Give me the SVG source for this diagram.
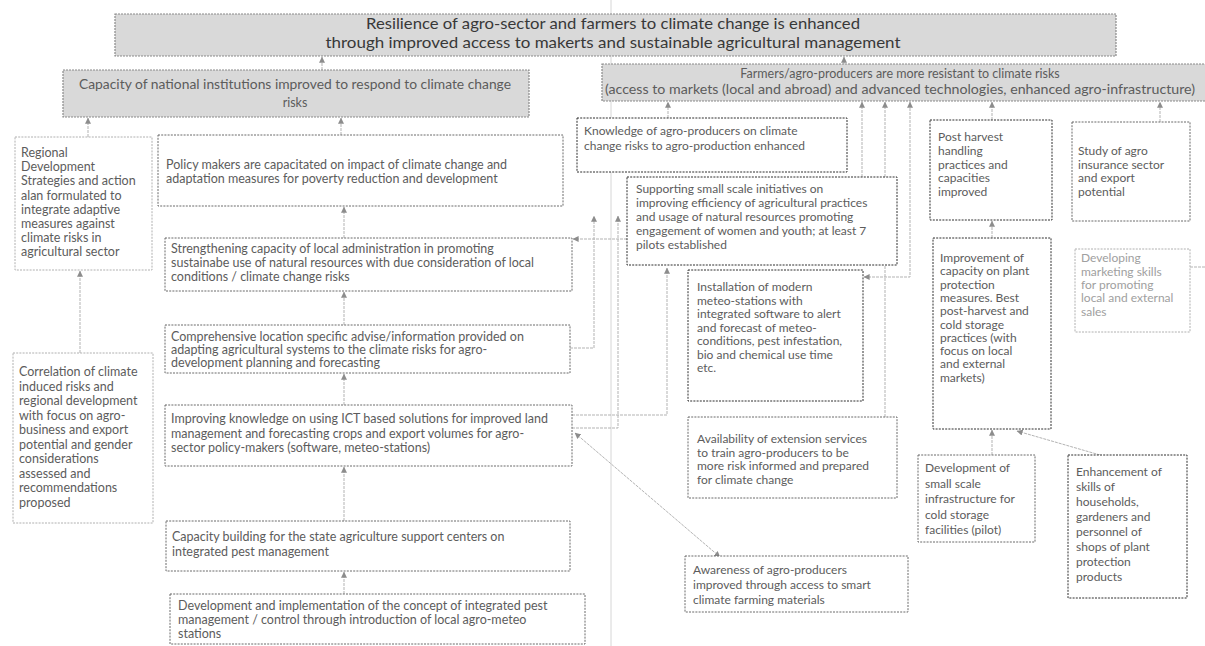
<svg xmlns="http://www.w3.org/2000/svg" width="1205" height="646" viewBox="0 0 1205 646">
<style>
.bx{fill:#fff;stroke:#6a6a6a;stroke-width:1;stroke-dasharray:2 1.2}
.dk{stroke:#2e2e2e}
.lt{stroke:#b0b0b0}
.gr{fill:#d9d9d9;stroke:#8a8a8a;stroke-width:1.2;stroke-dasharray:2 1}
.t{font-family:Lato,"Liberation Sans",sans-serif;font-size:12px;fill:#5c5c5c}
.tl{font-size:12.5px}
.ttl{font-family:Lato,"Liberation Sans",sans-serif;font-size:16px;fill:#383838;text-anchor:middle}
.tc{text-anchor:middle}
.pale{fill:#a0a0a0}
.conn path{fill:none;stroke:#b3b3b3;stroke-width:1;stroke-dasharray:3 1}
</style>
<defs>
<marker id="ah" viewBox="0 0 8 8" refX="7.5" refY="4" markerWidth="6" markerHeight="6" orient="auto-start-reverse">
<path d="M0,0 L8,4 L0,8 z" fill="#8c8c8c"/>
</marker>
</defs>
<rect width="1205" height="646" fill="#fff"/>
<g id="scan-seam"><path d="M611,0 V646" stroke="#d6d6d6" stroke-width="1"/></g>
<g class="conn">
<path d="M322,70 V57" marker-end="url(#ah)"/>
<path d="M844,64 V57" marker-end="url(#ah)"/>
<path d="M88,137 V118" marker-end="url(#ah)"/>
<path d="M341,135 V118" marker-end="url(#ah)"/>
<path d="M80,353 V271" marker-end="url(#ah)"/>
<path d="M344,238 V207" marker-end="url(#ah)"/>
<path d="M344,325 V292" marker-end="url(#ah)"/>
<path d="M344,405 V374" marker-end="url(#ah)"/>
<path d="M344,521 V467" marker-end="url(#ah)"/>
<path d="M344,594 V572" marker-end="url(#ah)"/>
<path d="M668,118 V102" marker-end="url(#ah)"/>
<path d="M862,177 V102" marker-end="url(#ah)"/>
<path d="M885,417 V102" marker-end="url(#ah)"/>
<path d="M864,277 H910 V102" marker-start="url(#ah)" marker-end="url(#ah)"/>
<path d="M992,120 V102" marker-end="url(#ah)"/>
<path d="M1160,122 V102" marker-end="url(#ah)"/>
<path d="M992,238 V221" marker-end="url(#ah)"/>
<path d="M992,455 V430" marker-end="url(#ah)"/>
<path d="M1100,455 L1017,431" marker-end="url(#ah)"/>
<path d="M627,239 H573" marker-end="url(#ah)"/>
<path d="M570,348 H594 V216" marker-end="url(#ah)"/>
<path d="M572,428 H618 V216" marker-end="url(#ah)"/>
<path d="M572,415 H667 V268" marker-end="url(#ah)"/>
<path d="M575,433 L720,557" marker-start="url(#ah)" marker-end="url(#ah)"/>
<path d="M1190,267 H1205"/>
</g>
<g id="goal">
<rect class="gr" x="115" y="14" width="1001" height="42"/>
<text class="ttl" x="613" y="29" textLength="494" lengthAdjust="spacingAndGlyphs">Resilience of agro-sector and farmers to climate change is enhanced</text>
<text class="ttl" x="613" y="48" textLength="575" lengthAdjust="spacingAndGlyphs">through improved access to makerts and sustainable agricultural management</text>
</g>
<g id="capacity-national">
<rect class="gr" x="63" y="70" width="466" height="47"/>
<text class="t tl tc" x="295" y="89" textLength="432" lengthAdjust="spacingAndGlyphs">Capacity of national institutions improved to respond to climate change</text>
<text class="t tl tc" x="295" y="107">risks</text>
</g>
<g id="farmers">
<rect class="gr" x="602" y="64" width="610" height="37"/>
<text class="t tl tc" x="900" y="78">Farmers/agro-producers are more resistant to climate risks</text>
<text class="t tl tc" x="900" y="94" textLength="590" lengthAdjust="spacingAndGlyphs">(access to markets (local and abroad) and advanced technologies, enhanced agro-infrastructure)</text>
</g>
<g id="regional">
<rect class="bx lt" x="15" y="137" width="137" height="133"/>
<text class="t tl" x="21" y="157">Regional</text>
<text class="t tl" x="21" y="171">Development</text>
<text class="t tl" x="21" y="185">Strategies and action</text>
<text class="t tl" x="21" y="200">alan formulated to</text>
<text class="t tl" x="21" y="214">integrate adaptive</text>
<text class="t tl" x="21" y="228">measures against</text>
<text class="t tl" x="21" y="242">climate risks in</text>
<text class="t tl" x="21" y="256">agricultural sector</text>
</g>
<g id="policy">
<rect class="bx" x="158" y="135" width="405" height="71"/>
<text class="t tl" x="166" y="169">Policy makers are capacitated on impact of climate change and</text>
<text class="t tl" x="166" y="183">adaptation measures for poverty reduction and development</text>
</g>
<g id="strengthening">
<rect class="bx" x="165" y="238" width="407" height="53"/>
<text class="t tl" x="171" y="253">Strengthening capacity of local administration in promoting</text>
<text class="t tl" x="171" y="267">sustainabe use of natural resources with due consideration of local</text>
<text class="t tl" x="171" y="281">conditions / climate change risks</text>
</g>
<g id="comprehensive">
<rect class="bx" x="165" y="325" width="405" height="48"/>
<text class="t tl" x="171" y="341">Comprehensive location specific advise/information provided on</text>
<text class="t tl" x="171" y="354">adapting agricultural systems to the climate risks for agro-</text>
<text class="t tl" x="171" y="367">development planning and forecasting</text>
</g>
<g id="improving">
<rect class="bx" x="165" y="405" width="407" height="61"/>
<text class="t tl" x="171" y="423">Improving knowledge on using ICT based solutions for improved land</text>
<text class="t tl" x="171" y="438">management and forecasting crops and export volumes for agro-</text>
<text class="t tl" x="171" y="452">sector policy-makers (software, meteo-stations)</text>
</g>
<g id="capacity-building">
<rect class="bx" x="166" y="521" width="404" height="50"/>
<text class="t tl" x="172" y="541">Capacity building for the state agriculture support centers on</text>
<text class="t tl" x="172" y="556">integrated pest management</text>
</g>
<g id="development-ipm">
<rect class="bx" x="170" y="594" width="415" height="50"/>
<text class="t tl" x="178" y="610">Development and implementation of the concept of integrated pest</text>
<text class="t tl" x="178" y="624">management / control through introduction of local agro-meteo</text>
<text class="t tl" x="178" y="638">stations</text>
</g>
<g id="correlation">
<rect class="bx lt" x="13" y="353" width="140" height="170"/>
<text class="t tl" x="19" y="376">Correlation of climate</text>
<text class="t tl" x="19" y="390.5">induced risks and</text>
<text class="t tl" x="19" y="405">regional development</text>
<text class="t tl" x="19" y="419.5">with focus on agro-</text>
<text class="t tl" x="19" y="434">business and export</text>
<text class="t tl" x="19" y="448.5">potential and gender</text>
<text class="t tl" x="19" y="463">considerations</text>
<text class="t tl" x="19" y="477.5">assessed and</text>
<text class="t tl" x="19" y="492">recommendations</text>
<text class="t tl" x="19" y="506.5">proposed</text>
</g>
<g id="knowledge">
<rect class="bx dk" x="577" y="118" width="270" height="54"/>
<text class="t" x="584" y="135">Knowledge of agro-producers on climate</text>
<text class="t" x="584" y="150">change risks to agro-production enhanced</text>
</g>
<g id="supporting">
<rect class="bx dk" x="627" y="177" width="270" height="88"/>
<text class="t" x="636" y="193">Supporting small scale initiatives on</text>
<text class="t" x="636" y="207">improving efficiency of agricultural practices</text>
<text class="t" x="636" y="221">and usage of natural resources promoting</text>
<text class="t" x="636" y="235">engagement of women and youth; at least 7</text>
<text class="t" x="636" y="249">pilots established</text>
</g>
<g id="installation">
<rect class="bx dk" x="688" y="270" width="175" height="131"/>
<text class="t" x="697" y="291">Installation of modern</text>
<text class="t" x="697" y="304.5">meteo-stations with</text>
<text class="t" x="697" y="318">integrated software to alert</text>
<text class="t" x="697" y="331.5">and forecast of meteo-</text>
<text class="t" x="697" y="345">conditions, pest infestation,</text>
<text class="t" x="697" y="358.5">bio and chemical use time</text>
<text class="t" x="697" y="372">etc.</text>
</g>
<g id="availability">
<rect class="bx" x="688" y="417" width="209" height="81"/>
<text class="t" x="697" y="443">Availability of extension services</text>
<text class="t" x="697" y="456.5">to train agro-producers to be</text>
<text class="t" x="697" y="470">more risk informed and prepared</text>
<text class="t" x="697" y="483.5">for climate change</text>
</g>
<g id="awareness">
<rect class="bx" x="685" y="556" width="223" height="56"/>
<text class="t" x="693" y="574">Awareness of agro-producers</text>
<text class="t" x="693" y="589">improved through access to smart</text>
<text class="t" x="693" y="604">climate farming materials</text>
</g>
<g id="post-harvest">
<rect class="bx dk" x="930" y="120" width="122" height="100"/>
<text class="t" x="938" y="141">Post harvest</text>
<text class="t" x="938" y="155">handling</text>
<text class="t" x="938" y="169">practices and</text>
<text class="t" x="938" y="182">capacities</text>
<text class="t" x="938" y="196">improved</text>
</g>
<g id="study">
<rect class="bx" x="1072" y="122" width="118" height="99"/>
<text class="t" x="1078" y="155">Study of agro</text>
<text class="t" x="1078" y="169">insurance sector</text>
<text class="t" x="1078" y="182">and export</text>
<text class="t" x="1078" y="196">potential</text>
</g>
<g id="improvement">
<rect class="bx dk" x="933" y="238" width="118" height="191"/>
<text class="t" x="940" y="262">Improvement of</text>
<text class="t" x="940" y="275.3">capacity on plant</text>
<text class="t" x="940" y="288.6">protection</text>
<text class="t" x="940" y="301.9">measures. Best</text>
<text class="t" x="940" y="315.2">post-harvest and</text>
<text class="t" x="940" y="328.5">cold storage</text>
<text class="t" x="940" y="341.8">practices (with</text>
<text class="t" x="940" y="355.1">focus on local</text>
<text class="t" x="940" y="368.4">and external</text>
<text class="t" x="940" y="381.7">markets)</text>
</g>
<g id="developing">
<rect class="bx lt" x="1075" y="249" width="115" height="83"/>
<text class="t pale" x="1081" y="262">Developing</text>
<text class="t pale" x="1081" y="276">marketing skills</text>
<text class="t pale" x="1081" y="289">for promoting</text>
<text class="t pale" x="1081" y="302">local and external</text>
<text class="t pale" x="1081" y="316">sales</text>
</g>
<g id="dev-infrastructure">
<rect class="bx" x="918" y="455" width="117" height="87"/>
<text class="t" x="925" y="472">Development of</text>
<text class="t" x="925" y="487.5">small scale</text>
<text class="t" x="925" y="503">infrastructure for</text>
<text class="t" x="925" y="518.5">cold storage</text>
<text class="t" x="925" y="534">facilities (pilot)</text>
</g>
<g id="enhancement">
<rect class="bx dk" x="1068" y="455" width="119" height="143"/>
<text class="t" x="1076" y="476">Enhancement of</text>
<text class="t" x="1076" y="491">skills of</text>
<text class="t" x="1076" y="506">households,</text>
<text class="t" x="1076" y="521">gardeners and</text>
<text class="t" x="1076" y="536">personnel of</text>
<text class="t" x="1076" y="551">shops of plant</text>
<text class="t" x="1076" y="566">protection</text>
<text class="t" x="1076" y="581">products</text>
</g>
</svg>
